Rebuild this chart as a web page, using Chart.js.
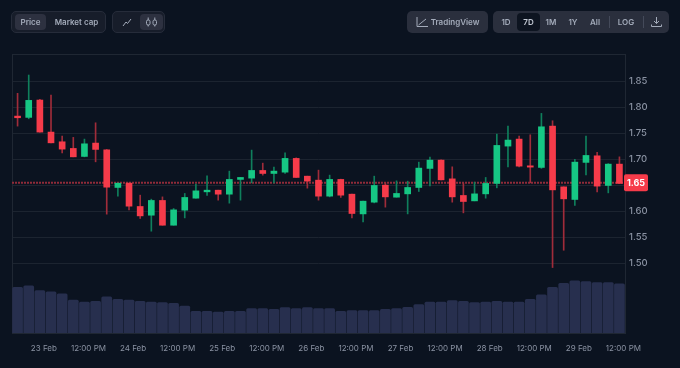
<!DOCTYPE html>
<html>
<head>
<meta charset="utf-8">
<style>
  html, body { margin: 0; padding: 0; background: #0b1320; }
  body { width: 680px; height: 368px; overflow: hidden; position: relative; font-family: Inter, sans-serif; }
  canvas { position: absolute; left: 0; top: 0; }
  .group { position: absolute; top: 10.5px; height: 22px; box-sizing: border-box; border-radius: 5px; }
  .dark { background: #171d2a; border: 1px solid #262c3a; }
  .light { background: #2a2f3d; }
  .btn { position: absolute; font-size: 8px; font-weight: 600; color: #a3abba; line-height: 22px; height: 22px; top: 0; text-align: center; white-space: nowrap; }
  .dark .btn { top: -1px; }
  .on { position: absolute; top: 2px; height: 16.5px; border-radius: 4px; }
  .sep { position: absolute; top: 5px; height: 12px; width: 1px; background: #444a5a; }
  svg { position: absolute; fill: none; stroke: #a3abba; stroke-width: 1; }
</style>
</head>
<body>
<canvas id="chart" width="680" height="368"></canvas>

<div class="group dark" style="left:11px;width:95px">
  <div class="on" style="left:3px;width:31px;background:#2d3140"></div>
  <div class="btn" style="left:3px;width:31px">Price</div>
  <div class="btn" style="left:35px;width:59px">Market cap</div>
</div>
<div class="group dark" style="left:112px;width:53px">
  <div class="on" style="left:27px;width:23px;background:#2d3140"></div>
  <svg style="left:8px;top:4px" width="12" height="12" viewBox="0 0 12 12"><path d="M2 10 L5 6 L6.5 7.5 L10 3"/></svg>
  <svg style="left:32px;top:4px" width="13" height="12" viewBox="0 0 13 12"><rect x="1.5" y="4" width="3.5" height="5" rx="1.5"/><rect x="8" y="4" width="3.5" height="5" rx="1.5"/><path d="M3.2 1.5V4M3.2 9V10.5M9.8 1.5V4M9.8 9V10.5"/></svg>
</div>
<div class="group light" style="left:406.5px;width:81.5px">
  <svg style="left:9px;top:5px" width="13" height="12" viewBox="0 0 13 12"><path d="M1 1V10.5H12M2.5 9L10 3"/></svg>
  <div class="btn" style="left:24px;width:49px">TradingView</div>
</div>
<div class="group light" style="left:493px;width:176px">
  <div class="on" style="left:24px;width:23px;top:2px;height:18px;background:#0d1420"></div>
  <div class="btn" style="left:3px;width:20px">1D</div>
  <div class="btn" style="left:25px;width:21px;color:#c3c9d4">7D</div>
  <div class="btn" style="left:48px;width:20px">1M</div>
  <div class="btn" style="left:70px;width:20px">1Y</div>
  <div class="btn" style="left:92px;width:20px">All</div>
  <div class="sep" style="left:115.5px"></div>
  <div class="btn" style="left:123px;width:20px">LOG</div>
  <div class="sep" style="left:149.5px"></div>
  <svg style="left:157px;top:5px" width="13" height="12" viewBox="0 0 13 12"><path d="M6.5 1V7.5M4 5L6.5 7.5L9 5M1.5 8.5V10.5H11.5V8.5"/></svg>
</div>

<script src="https://cdn.jsdelivr.net/npm/chart.js@4/dist/chart.umd.min.js"></script>
<script>
// one entry per 3 hour candle
const times = ['22 Feb 18h', '22 Feb 21h', '23 Feb 0h', '23 Feb 3h', '23 Feb 6h', '23 Feb 9h', '23 Feb 12h', '23 Feb 15h', '23 Feb 18h', '23 Feb 21h', '24 Feb 0h', '24 Feb 3h', '24 Feb 6h', '24 Feb 9h', '24 Feb 12h', '24 Feb 15h', '24 Feb 18h', '24 Feb 21h', '25 Feb 0h', '25 Feb 3h', '25 Feb 6h', '25 Feb 9h', '25 Feb 12h', '25 Feb 15h', '25 Feb 18h', '25 Feb 21h', '26 Feb 0h', '26 Feb 3h', '26 Feb 6h', '26 Feb 9h', '26 Feb 12h', '26 Feb 15h', '26 Feb 18h', '26 Feb 21h', '27 Feb 0h', '27 Feb 3h', '27 Feb 6h', '27 Feb 9h', '27 Feb 12h', '27 Feb 15h', '27 Feb 18h', '27 Feb 21h', '28 Feb 0h', '28 Feb 3h', '28 Feb 6h', '28 Feb 9h', '28 Feb 12h', '28 Feb 15h', '28 Feb 18h', '28 Feb 21h', '29 Feb 0h', '29 Feb 3h', '29 Feb 6h', '29 Feb 9h', '29 Feb 12h'];

const opens = [1.7836, 1.7811, 1.8145, 1.7528, 1.7341, 1.7213, 1.7059, 1.7316, 1.7186, 1.6461, 1.6544, 1.6095, 1.5927, 1.6211, 1.5734, 1.6024, 1.6255, 1.6377, 1.6409, 1.6332, 1.6616, 1.6641, 1.6789, 1.6731, 1.6756, 1.7021, 1.6679, 1.6602, 1.6294, 1.6616, 1.6332, 1.5952, 1.6178, 1.6506, 1.6274, 1.6338, 1.6461, 1.6828, 1.6988, 1.6627, 1.6307, 1.6203, 1.6338, 1.6539, 1.7258, 1.7393, 1.6878, 1.6847, 1.7643, 1.6473, 1.6230, 1.6944, 1.7071, 1.6500, 1.6911];
const closes = [1.7804, 1.8139, 1.7528, 1.7321, 1.7200, 1.7051, 1.7302, 1.7194, 1.6467, 1.6544, 1.6101, 1.5914, 1.6211, 1.5734, 1.6030, 1.6269, 1.6396, 1.6409, 1.6332, 1.6616, 1.6654, 1.6789, 1.6731, 1.6776, 1.7021, 1.6654, 1.6583, 1.6294, 1.6616, 1.6313, 1.5960, 1.6197, 1.6500, 1.6280, 1.6346, 1.6461, 1.6834, 1.6988, 1.6608, 1.6280, 1.6191, 1.6338, 1.6539, 1.7271, 1.7374, 1.6872, 1.6853, 1.7630, 1.6415, 1.6242, 1.6949, 1.7078, 1.6487, 1.6911, 1.6539];
const highs = [1.8274, 1.8627, 1.8158, 1.8241, 1.7451, 1.7426, 1.7393, 1.7707, 1.7194, 1.6544, 1.6544, 1.6313, 1.6236, 1.6280, 1.6056, 1.6346, 1.6525, 1.6685, 1.6409, 1.6776, 1.6654, 1.7181, 1.6930, 1.6853, 1.7129, 1.7032, 1.6679, 1.6795, 1.6699, 1.6621, 1.6332, 1.6197, 1.6679, 1.6550, 1.6589, 1.6583, 1.6949, 1.7046, 1.6994, 1.6859, 1.6539, 1.6564, 1.6654, 1.7489, 1.7643, 1.7451, 1.7476, 1.7888, 1.7746, 1.6473, 1.7001, 1.7451, 1.7136, 1.6920, 1.7051];
const lows = [1.7643, 1.7784, 1.7528, 1.7321, 1.7129, 1.7051, 1.7051, 1.6955, 1.5947, 1.6294, 1.6030, 1.5864, 1.5619, 1.5734, 1.5734, 1.5875, 1.6255, 1.6307, 1.6217, 1.6159, 1.6217, 1.6550, 1.6699, 1.6550, 1.6731, 1.6654, 1.6448, 1.6217, 1.6280, 1.6269, 1.5875, 1.5798, 1.6164, 1.6082, 1.6274, 1.5952, 1.6384, 1.6492, 1.6608, 1.6178, 1.5972, 1.6203, 1.6255, 1.6454, 1.6859, 1.6859, 1.6550, 1.6828, 1.4919, 1.5252, 1.6114, 1.6704, 1.6377, 1.6357, 1.6539];
const volumes = [138, 142, 128, 124, 118, 100, 94, 96, 109, 102, 100, 96, 94, 92, 90, 82, 66, 66, 64, 66, 66, 74, 74, 72, 77, 74, 77, 74, 74, 66, 68, 68, 68, 72, 74, 78, 86, 94, 94, 98, 96, 92, 94, 96, 94, 94, 102, 115, 138, 150, 157, 155, 152, 152, 148];

const priceTicks = [1.50, 1.55, 1.60, 1.65, 1.70, 1.75, 1.80, 1.85];
const xTickLabels = ['23 Feb', '12:00 PM', '24 Feb', '12:00 PM', '25 Feb', '12:00 PM', '26 Feb', '12:00 PM', '27 Feb', '12:00 PM', '28 Feb', '12:00 PM', '29 Feb', '12:00 PM'];
const lastPrice = 1.655;
const lastPriceLabel = '1.65';

const GREEN = '#16c784', RED = '#f63b4a';
const candleColours = opens.map((o, i) => closes[i] >= o ? GREEN : RED);
const wickColours = opens.map((o, i) => closes[i] >= o ? '#0f7f5c' : '#a02c3a');
const bodies = opens.map((o, i) => [o, closes[i]]);
const wicks = lows.map((l, i) => [l, highs[i]]);

// frame around the plot, the dotted last price and its red tag
const overlay = {
    id: 'overlay',
    beforeDatasetsDraw: function (chart) {
        const ctx = chart.ctx, a = chart.chartArea;
        const y = chart.scales.y.getPixelForValue(lastPrice);
        ctx.save();
        ctx.strokeStyle = '#1f2733';
        ctx.lineWidth = 1;
        ctx.strokeRect(Math.round(a.left) + 0.5, Math.round(a.top) + 0.5, a.width, a.height);
        ctx.strokeStyle = '#8f2b39';
        ctx.lineWidth = 2;
        ctx.setLineDash([2, 1]);
        ctx.beginPath();
        ctx.moveTo(a.left, y);
        ctx.lineTo(a.right, y);
        ctx.stroke();
        ctx.restore();
    },
    afterDraw: function (chart) {
        const ctx = chart.ctx, a = chart.chartArea;
        const y = chart.scales.y.getPixelForValue(lastPrice);
        ctx.save();
        ctx.fillStyle = RED;
        ctx.beginPath();
        ctx.roundRect(a.right - 1, y - 8.5, 24, 17, 2);
        ctx.fill();
        ctx.fillStyle = '#ffffff';
        ctx.font = '700 9px Inter';
        ctx.textAlign = 'center';
        ctx.textBaseline = 'middle';
        ctx.fillText(lastPriceLabel, a.right + 11, y + 0.5);
        ctx.restore();
    }
};

new Chart(document.getElementById('chart').getContext('2d'), {
    data: {
        labels: times,
        datasets: [
            {
                type: 'bar', yAxisID: 'yVol', data: volumes, order: 3, grouped: false,
                backgroundColor: '#272f4e', barPercentage: 0.96, categoryPercentage: 1,
                borderRadius: { topLeft: 1.5, topRight: 1.5 }
            },
            {
                type: 'bar', yAxisID: 'y', data: wicks, order: 2, grouped: false,
                backgroundColor: wickColours, barThickness: 1
            },
            {
                type: 'bar', yAxisID: 'y', data: bodies, order: 1, grouped: false,
                backgroundColor: candleColours, barThickness: 6
            }
        ]
    },
    options: {
        responsive: false,
        animation: false,
        layout: { padding: { left: 12, top: 54 } },
        plugins: { legend: { display: false }, tooltip: { enabled: false } },
        scales: {
            x: {
                grid: { display: false },
                border: { display: false },
                afterFit: function (scale) { scale.height = 35; },
                ticks: {
                    autoSkip: false,
                    maxRotation: 0,
                    labelOffset: 4,
                    padding: 3,
                    color: '#8a92a2',
                    font: { family: 'Inter', size: 8 },
                    callback: function (v, i) {
                        return i % 4 === 2 ? xTickLabels[(i - 2) / 4] : '';
                    }
                }
            },
            y: {
                position: 'right',
                min: 1.3658,
                max: 1.9032,
                afterBuildTicks: function (scale) {
                    scale.ticks = priceTicks.map(v => ({ value: v }));
                },
                afterFit: function (scale) { scale.width = 55; },
                grid: { color: '#1c2430', drawTicks: false },
                border: { display: false },
                ticks: {
                    padding: 4,
                    color: '#8a92a2',
                    font: { family: 'Inter', size: 9.5, weight: '500' },
                    callback: function (v) { return v.toFixed(2); }
                }
            },
            yVol: {
                display: false,
                min: 0,
                max: 836
            }
        }
    },
    plugins: [overlay]
});
</script>
</body>
</html>
